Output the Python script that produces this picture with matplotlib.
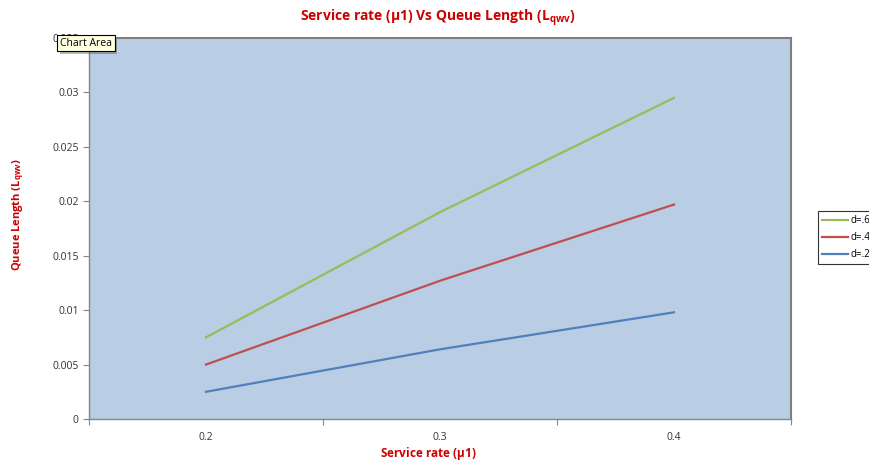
import numpy as np
import matplotlib.pyplot as plt
import matplotlib.patheffects as pe

plt.rcParams['font.family'] = ['Open Sans', 'DejaVu Sans']
plt.rcParams['mathtext.fontset'] = 'custom'
plt.rcParams['mathtext.rm'] = 'Open Sans'
plt.rcParams['mathtext.bf'] = 'Open Sans:bold'

# service rate categories and queue length for each d
rates = ['0.2', '0.3', '0.4']
d6 = [0.0075, 0.0190, 0.0295]
d4 = [0.0050, 0.0127, 0.0197]
d2 = [0.0025, 0.0064, 0.0098]
y_ticks = [0, 0.005, 0.01, 0.015, 0.02, 0.025, 0.03, 0.035]
y_labels = ['0', '0.005', '0.01', '0.015', '0.02', '0.025', '0.03', '0.035']

red = '#CC0000'
fig = plt.figure(figsize=(8.7, 4.61), dpi=100)
ax = fig.add_axes([0.1023, 0.0911, 0.8069, 0.8265])
ax.set_facecolor('#B9CDE5')

x = np.arange(len(rates)) + 0.5
ax.plot(x, d6, color='#9BBB59', lw=1.6, label='d=.6')
ax.plot(x, d4, color='#C0504D', lw=1.6, label='d=.4')
ax.plot(x, d2, color='#4F81BD', lw=1.6, label='d=.2')

ax.set_xlim(0, len(rates))
ax.set_ylim(0, 0.035)
ax.set_xticks(np.arange(len(rates) + 1))
ax.set_xticklabels([])
ax.set_xticks(x, minor=True)
ax.set_xticklabels(rates, minor=True)
ax.tick_params(axis='x', which='minor', length=0, pad=9)
ax.tick_params(axis='x', which='major', length=4, color='#868686')
ax.set_yticks(y_ticks)
ax.set_yticklabels(y_labels)
ax.tick_params(axis='y', length=4, color='#868686')
ax.tick_params(which='both', labelsize=7.5, labelcolor='#333333')

for side in ['top', 'right']:
    ax.spines[side].set_color('#7F7F7F')
    ax.spines[side].set_linewidth(1.5)
for side in ['left', 'bottom']:
    ax.spines[side].set_color('#868686')
    ax.spines[side].set_linewidth(1.0)

fig.text(0.503, 0.960, r'Service rate ($\mathbf{\mu}$1) Vs Queue Length (L$_{\mathbf{qwv}}$)',
         ha='center', va='center', color=red, fontsize=10, fontweight='bold')
fig.text(0.492, 0.017, r'Service rate ($\mathbf{\mu}$1)', ha='center', va='center',
         color=red, fontsize=8.5, fontweight='bold')
fig.text(0.021, 0.535, r'Queue Length (L$_{\mathbf{qwv}}$)', ha='center', va='center',
         rotation=90, color=red, fontsize=8, fontweight='bold')

leg = fig.legend(loc='upper left', bbox_to_anchor=(818 / 870, 1 - 211 / 461),
                 fontsize=7, frameon=True, fancybox=False, handlelength=2.6,
                 handletextpad=0.3, borderpad=0.45, labelspacing=0.6,
                 borderaxespad=0)
leg.get_frame().set_edgecolor('black')
leg.get_frame().set_linewidth(0.8)

# hover tooltip over the chart corner
tip = fig.text(0.0690, 0.906, 'Chart Area', fontsize=7.5, color='black', va='center', ha='left',
               bbox=dict(boxstyle='square,pad=0.25', fc='#FFFFE1', ec='black', lw=0.8))
tip.get_bbox_patch().set_path_effects([pe.SimplePatchShadow(offset=(2, -2), alpha=0.4), pe.Normal()])

fig.savefig('out.png', dpi=100)
